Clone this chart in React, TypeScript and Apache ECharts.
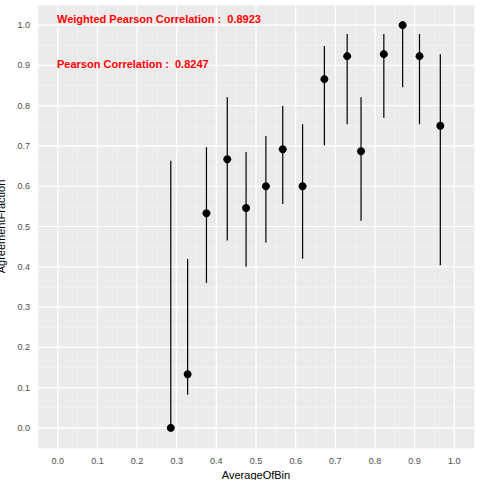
import React, { useEffect, useRef } from 'react';
import * as echarts from 'echarts';

const binX = [0.285, 0.3275, 0.375, 0.4275, 0.475, 0.525, 0.5675, 0.6175, 0.6725, 0.73, 0.765, 0.8225, 0.87, 0.9125, 0.965];
const fraction = [0.0, 0.133, 0.533, 0.667, 0.546, 0.6, 0.692, 0.6, 0.866, 0.923, 0.687, 0.928, 1.0, 0.923, 0.75];
const upper = [0.663, 0.419, 0.697, 0.821, 0.685, 0.725, 0.8, 0.754, 0.948, 0.978, 0.821, 0.978, 1.0, 0.978, 0.928];
const lower = [0.0, 0.082, 0.36, 0.465, 0.4, 0.46, 0.556, 0.42, 0.702, 0.754, 0.514, 0.77, 0.846, 0.754, 0.404];
const majorTicks = [0, 0.1, 0.2, 0.3, 0.4, 0.5, 0.6, 0.7, 0.8, 0.9, 1.0];
const annotations = ['Weighted Pearson Correlation :  0.8923', 'Pearson Correlation :  0.8247'];

const isMajor = (v: number) => Math.abs(Math.round(v * 20)) % 2 === 0 && v >= -0.001 && v <= 1.001;

const axisBase = (name: string, gap: number) => ({
  type: 'value',
  min: -0.05,
  max: 1.05,
  interval: 0.05,
  name,
  nameLocation: 'middle',
  nameGap: gap,
  nameTextStyle: { color: '#000', fontSize: 11, fontFamily: 'Liberation Sans' },
  axisLine: { show: false },
  axisTick: { show: false },
  axisLabel: {
    color: '#4d4d4d',
    fontSize: 9,
    fontFamily: 'Liberation Sans',
    formatter: (v: number) => (isMajor(v) ? v.toFixed(1) : ''),
  },
  splitLine: { show: true, lineStyle: { color: '#f4f4f4', width: 0.6 } },
});

const App: React.FC = () => {
  const ref = useRef<HTMLDivElement>(null);
  useEffect(() => {
    if (!ref.current) return;
    const chart = echarts.init(ref.current, null, { renderer: 'svg' });
    chart.setOption({
      animation: false,
      backgroundColor: '#fff',
      grid: {
        left: 38, right: 6, top: 5, bottom: 32, show: true, backgroundColor: '#ebebeb', borderWidth: 0,
        containLabel: false, outerBoundsMode: 'none',
      },
      xAxis: axisBase('AverageOfBin', 18),
      yAxis: axisBase('AgreementFraction', 26),
      series: [
        {
          type: 'custom',
          silent: true,
          data: majorTicks.map((t) => [t]),
          renderItem: (_p: any, api: any) => {
            const t = api.value(0);
            const a = api.coord([t, -0.05]);
            const b = api.coord([t, 1.05]);
            const c = api.coord([-0.05, t]);
            const d = api.coord([1.05, t]);
            const st = { stroke: '#ffffff', lineWidth: 1.2 };
            return {
              type: 'group',
              children: [
                { type: 'line', shape: { x1: a[0], y1: a[1], x2: b[0], y2: b[1] }, style: st },
                { type: 'line', shape: { x1: c[0], y1: c[1], x2: d[0], y2: d[1] }, style: st },
              ],
            };
          },
          z: 1,
        },
        {
          type: 'custom',
          data: binX.map((x, i) => [x, lower[i], upper[i]]),
          renderItem: (_p: any, api: any) => {
            const a = api.coord([api.value(0), api.value(1)]);
            const b = api.coord([api.value(0), api.value(2)]);
            return { type: 'line', shape: { x1: a[0], y1: a[1], x2: b[0], y2: b[1] }, style: { stroke: '#000', lineWidth: 1.2 } };
          },
          z: 3,
        },
        {
          type: 'scatter',
          data: binX.map((x, i) => [x, fraction[i]]),
          symbolSize: 8,
          itemStyle: { color: '#000', opacity: 1 },
          z: 4,
        },
      ],
      graphic: annotations.map((t, i) => ({
        type: 'text',
        left: 57,
        top: 13 + i * 45,
        z: 10,
        style: { text: t, fill: '#ff0000', font: 'bold 11px Liberation Sans' },
      })),
    });
    return () => chart.dispose();
  }, []);
  return <div ref={ref} style={{ position: 'fixed', left: 0, top: 0, width: 480, height: 480 }} />;
};

export default App;
